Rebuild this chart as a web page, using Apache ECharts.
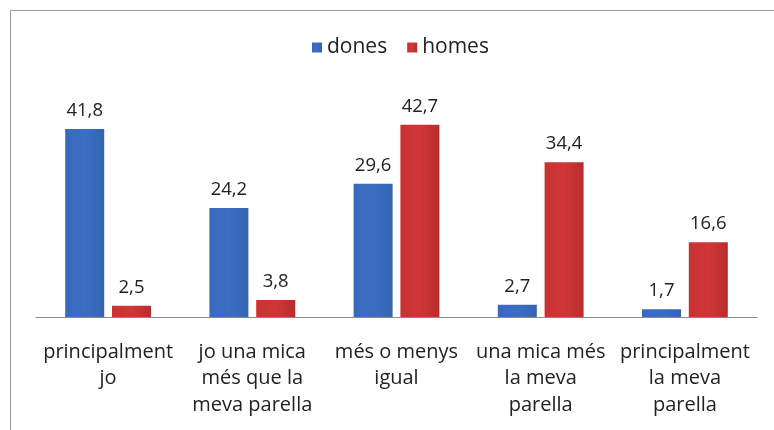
<!DOCTYPE html>
<html>
<head>
<meta charset="utf-8">
<script src="https://cdn.jsdelivr.net/npm/echarts@6/dist/echarts.min.js"></script>
<style>
  html, body { margin: 0; padding: 0; background: #fff; }
  #chart { width: 774px; height: 430px; }
</style>
</head>
<body>
<div id="chart"></div>
<script>
// Categories and values (percentages)
const categories = [
  'principalment\njo',
  'jo una mica\nmés que la\nmeva parella',
  'més o menys\nigual',
  'una mica més\nla meva\nparella',
  'principalment\nla meva\nparella'
];
const seriesNames = ['dones', 'homes'];
const dones = [41.8, 24.2, 29.6, 2.7, 1.7];
const homes = [2.5, 3.8, 42.7, 34.4, 16.6];

const FONT = '"Open Sans", sans-serif';

function grad(c1, c2, c3) {
  return new echarts.graphic.LinearGradient(0, 0, 1, 0, [
    { offset: 0, color: c1 },
    { offset: 0.5, color: c2 },
    { offset: 1, color: c3 }
  ]);
}

const labelCfg = {
  show: true,
  position: 'top',
  distance: 9,
  color: '#222',
  fontFamily: FONT,
  fontSize: 18.5,
  formatter: p => String(p.value).replace('.', ',')
};

const chart = echarts.init(document.getElementById('chart'), null, { renderer: 'canvas' });
chart.setOption({
  animation: false,
  backgroundColor: '#fff',
  graphic: [{
    type: 'rect',
    shape: { x: 10.5, y: 10.5, width: 800, height: 500 },
    style: { fill: 'none', stroke: '#9a9a9a', lineWidth: 1 },
    silent: true
  }],
  legend: {
    top: 32,
    left: 307,
    itemWidth: 10,
    itemHeight: 10,
    itemGap: 20,
    icon: 'rect',
    textStyle: { fontFamily: FONT, fontSize: 21, color: '#222' },
    data: seriesNames
  },
  grid: { left: 36, right: 17, top: 92, bottom: 113 },
  xAxis: {
    type: 'category',
    data: categories,
    axisLine: { lineStyle: { color: '#8c8c8c', width: 1 } },
    axisTick: { show: false },
    axisLabel: {
      interval: 0,
      margin: 22,
      fontFamily: FONT,
      fontSize: 20,
      lineHeight: 26.5,
      color: '#222',
      align: 'center'
    }
  },
  yAxis: {
    type: 'value',
    min: 0,
    max: 50,
    show: false,
    splitLine: { show: false }
  },
  series: [
    {
      name: seriesNames[0],
      type: 'bar',
      data: dones,
      barWidth: 39,
      barGap: '20%',
      itemStyle: { color: grad('#3869bb', '#3b6fc4', '#3263b2') },
      label: labelCfg
    },
    {
      name: seriesNames[1],
      type: 'bar',
      data: homes,
      barWidth: 39,
      barGap: '20%',
      itemStyle: { color: grad('#c83232', '#d03737', '#b92c2c') },
      label: labelCfg
    }
  ]
});
</script>
</body>
</html>
